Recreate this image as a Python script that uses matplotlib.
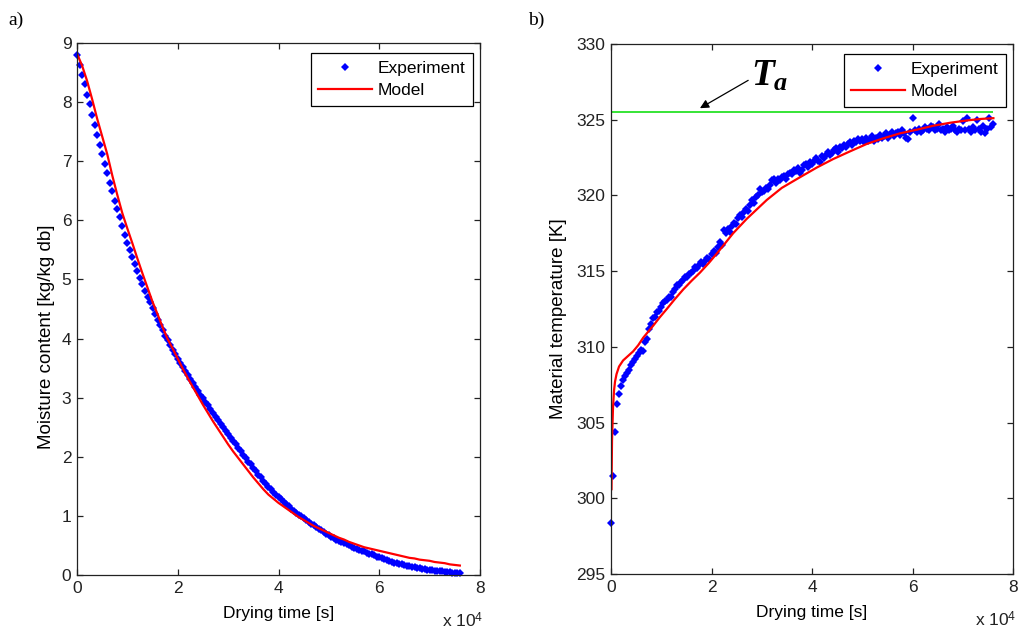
import numpy as np
import matplotlib
matplotlib.use("Agg")
import matplotlib.pyplot as plt

plt.rcParams['font.family'] = ['Liberation Sans', 'DejaVu Sans']
plt.rcParams['mathtext.fontset'] = 'custom'
plt.rcParams['mathtext.rm'] = 'Liberation Sans'
plt.rcParams['mathtext.it'] = 'Liberation Serif:italic:bold'

# a) moisture content, measured every 500 s
t_exp_a = np.arange(0, 76001, 500)
X_exp = [8.80, 8.63, 8.46, 8.30, 8.12, 7.96, 7.78, 7.62, 7.45, 7.28,
         7.12, 6.96, 6.80, 6.64, 6.49, 6.33, 6.19, 6.05, 5.91, 5.76,
         5.62, 5.50, 5.38, 5.26, 5.14, 5.03, 4.92, 4.81, 4.71, 4.61,
         4.51, 4.42, 4.32, 4.23, 4.14, 4.05, 3.97, 3.89, 3.81, 3.74,
         3.66, 3.59, 3.52, 3.45, 3.38, 3.31, 3.25, 3.18, 3.12, 3.05,
         2.99, 2.93, 2.87, 2.80, 2.74, 2.68, 2.62, 2.56, 2.50, 2.44,
         2.38, 2.32, 2.26, 2.21, 2.15, 2.09, 2.03, 1.98, 1.92, 1.87,
         1.81, 1.76, 1.70, 1.65, 1.59, 1.54, 1.49, 1.45, 1.40, 1.35,
         1.32, 1.28, 1.24, 1.20, 1.16, 1.12, 1.09, 1.05, 1.02, 0.99,
         0.96, 0.93, 0.90, 0.87, 0.84, 0.81, 0.78, 0.76, 0.73, 0.70,
         0.67, 0.65, 0.62, 0.60, 0.58, 0.56, 0.54, 0.52, 0.50, 0.48,
         0.46, 0.44, 0.43, 0.41, 0.40, 0.38, 0.36, 0.35, 0.33, 0.31,
         0.30, 0.28, 0.27, 0.25, 0.24, 0.22, 0.21, 0.20, 0.19, 0.18,
         0.17, 0.16, 0.15, 0.14, 0.13, 0.12, 0.11, 0.10, 0.10, 0.09,
         0.08, 0.08, 0.07, 0.07, 0.06, 0.06, 0.05, 0.05, 0.05, 0.04,
         0.04, 0.04, 0.04]

# model output every 1000 s
t_mod_a = np.arange(0, 76001, 1000)
X_mod = [8.82, 8.62, 8.36, 8.05, 7.72, 7.42, 7.12, 6.76, 6.43, 6.12,
         5.86, 5.61, 5.35, 5.10, 4.86, 4.62, 4.41, 4.19, 3.99, 3.83,
         3.66, 3.49, 3.33, 3.18, 3.03, 2.88, 2.74, 2.60, 2.47, 2.34,
         2.21, 2.09, 1.98, 1.87, 1.76, 1.65, 1.55, 1.45, 1.36, 1.29,
         1.22, 1.16, 1.10, 1.04, 0.98, 0.93, 0.88, 0.83, 0.79, 0.75,
         0.71, 0.67, 0.63, 0.60, 0.56, 0.53, 0.50, 0.47, 0.45, 0.43,
         0.41, 0.39, 0.37, 0.35, 0.33, 0.31, 0.29, 0.28, 0.26, 0.25,
         0.24, 0.22, 0.21, 0.20, 0.18, 0.17, 0.16]

# b) material temperature, measured every 400 s
t_exp_b = np.arange(0, 76001, 400)
T_exp = [298.4, 301.5, 304.4, 306.2, 306.9, 307.4, 307.8, 308.1, 308.3, 308.5,
         308.8, 309.0, 309.2, 309.4, 309.6, 309.8, 309.7, 310.3, 310.5, 311.2,
         311.5, 311.9, 312.0, 312.3, 312.4, 312.6, 312.9, 313.0, 313.1, 313.3,
         313.3, 313.6, 313.8, 314.1, 314.1, 314.3, 314.4, 314.6, 314.6, 314.8,
         314.9, 315.0, 315.3, 315.2, 315.4, 315.6, 315.5, 315.7, 315.9, 315.8,
         316.1, 316.3, 316.2, 316.6, 316.9, 316.7, 317.7, 317.5, 317.8, 317.6,
         318.0, 318.2, 318.1, 318.5, 318.7, 318.6, 318.9, 319.1, 319.0, 319.4,
         319.7, 319.5, 319.9, 320.0, 320.4, 320.2, 320.3, 320.5, 320.4, 320.7,
         321.0, 321.1, 320.8, 321.1, 321.0, 321.2, 321.3, 321.1, 321.4, 321.5,
         321.4, 321.7, 321.6, 321.8, 321.5, 321.7, 322.0, 322.1, 321.9, 322.2,
         322.1, 322.3, 322.5, 322.3, 322.2, 322.6, 322.5, 322.7, 322.9, 322.7,
         322.8, 323.0, 323.1, 322.9, 323.2, 323.1, 323.3, 323.2, 323.4, 323.5,
         323.3, 323.6, 323.5, 323.7, 323.6, 323.7, 323.5, 323.8, 323.6, 323.7,
         323.9, 323.6, 323.8, 323.7, 324.0, 323.8, 323.9, 324.1, 323.8, 324.0,
         324.2, 323.9, 324.1, 324.2, 324.0, 324.3, 324.1, 323.8, 323.7, 324.2,
         325.1, 324.3, 324.2, 324.4, 324.2, 324.3, 324.5, 324.4, 324.3, 324.6,
         324.5, 324.3, 324.4, 324.7, 324.3, 324.4, 324.2, 324.5, 324.3, 324.4,
         324.6, 324.3, 324.2, 324.4, 324.3, 324.9, 324.3, 325.1, 324.4, 324.2,
         324.5, 324.3, 325.0, 324.4, 324.2, 324.6, 324.1, 324.4, 325.1, 324.5,
         324.7]

t_mod_b = [100, 200, 400, 600, 800, 1100, 1600, 2400, 3400, 4400, 5400, 6400,
           7400, 8400, 9700, 11100, 12700, 14400, 16000, 17700, 19500, 21400,
           24300, 27000, 31000, 34000, 37600, 41000, 44200, 47500, 50900,
           54000, 57500, 61000, 64100, 67500, 70800, 73500, 76100]
T_mod = [300.6, 303.8, 306.0, 307.1, 307.7, 308.2, 308.7, 309.1, 309.4, 309.7,
         310.1, 310.6, 311.0, 311.4, 311.95, 312.5, 313.15, 313.8, 314.35,
         314.9, 315.55, 316.3, 317.5, 318.45, 319.7, 320.5, 321.2, 321.85,
         322.4, 322.9, 323.4, 323.75, 324.1, 324.35, 324.6, 324.8, 324.95,
         325.05, 325.1]

T_a = 325.5   # air temperature

x_ticks = [0, 20000, 40000, 60000, 80000]
x_ticklabels = ['0', '2', '4', '6', '8']

fig = plt.figure(figsize=(10.19, 6.31), dpi=100)
ax1 = fig.add_axes([77 / 1019, 56 / 631, 403 / 1019, 532 / 631])
ax2 = fig.add_axes([611 / 1019, 57 / 631, 402 / 1019, 530 / 631])

ax1.plot(t_exp_a, X_exp, 'D', color='#0000ff', ms=3.6, mew=0, clip_on=False,
         label='Experiment')
ax1.plot(t_mod_a, X_mod, '-', color='#ff0000', lw=1.6, label='Model')
ax1.set_ylim(0, 9)
ax1.set_yticks(range(0, 10))
ax1.set_ylabel('Moisture content [kg/kg db]', fontsize=13.5)
ax1.yaxis.set_label_coords(-0.055, 0.447)

ax2.hlines(T_a, t_exp_b[0], t_exp_b[-1], color='#00dd00', lw=1.1)
ax2.plot(t_exp_b, T_exp, 'D', color='#0000ff', ms=3.6, mew=0, clip_on=False,
         label='Experiment')
ax2.plot(t_mod_b, T_mod, '-', color='#ff0000', lw=1.6, label='Model')
ax2.set_ylim(295, 330)
ax2.set_yticks(range(295, 331, 5))
ax2.set_ylabel('Material temperature [K]', fontsize=13.5)
ax2.yaxis.set_label_coords(-0.109, 0.481)

# T_a label with arrow pointing at the air temperature line
ax2.annotate('', xy=(17700, 325.76), xytext=(27300, 327.6),
             arrowprops=dict(arrowstyle='-|>', color='k', lw=0.9,
                             mutation_scale=13, shrinkA=0, shrinkB=0))
ax2.text(27800, 327.28, r'$T_a$', fontsize=27, va='baseline')

for ax in (ax1, ax2):
    ax.set_xlim(0, 80000)
    ax.set_xticks(x_ticks)
    ax.set_xticklabels(x_ticklabels)
    ax.tick_params(direction='in', length=4, width=0.9, top=True, right=True,
                   labelsize=12.5, colors='#222222', pad=4)
    for s in ax.spines.values():
        s.set_linewidth(0.9)
        s.set_color('#222222')
    ax.set_xlabel('Drying time [s]', fontsize=12.5)
    ax.xaxis.set_label_coords(0.5, -0.058)
    ax.text(1.008, -0.098, r'x $10^4$', transform=ax.transAxes, ha='right',
            va='baseline', fontsize=12.5, color='#222222')
    leg = ax.legend(loc='upper right', bbox_to_anchor=(1 - 7 / 403, 1 - 10 / 532),
                    borderaxespad=0, fancybox=False, framealpha=1, edgecolor='k',
                    fontsize=12.5, handlelength=3.1, handletextpad=0.3,
                    labelspacing=0.42, borderpad=0.45, numpoints=1)
    leg.get_frame().set_linewidth(0.9)

fig.text(8 / 1019, 1 - 25 / 631, 'a)', family='Liberation Serif', fontsize=14,
         va='baseline')
fig.text(528 / 1019, 1 - 25 / 631, 'b)', family='Liberation Serif', fontsize=14,
         va='baseline')

fig.savefig('out.png', dpi=100)
